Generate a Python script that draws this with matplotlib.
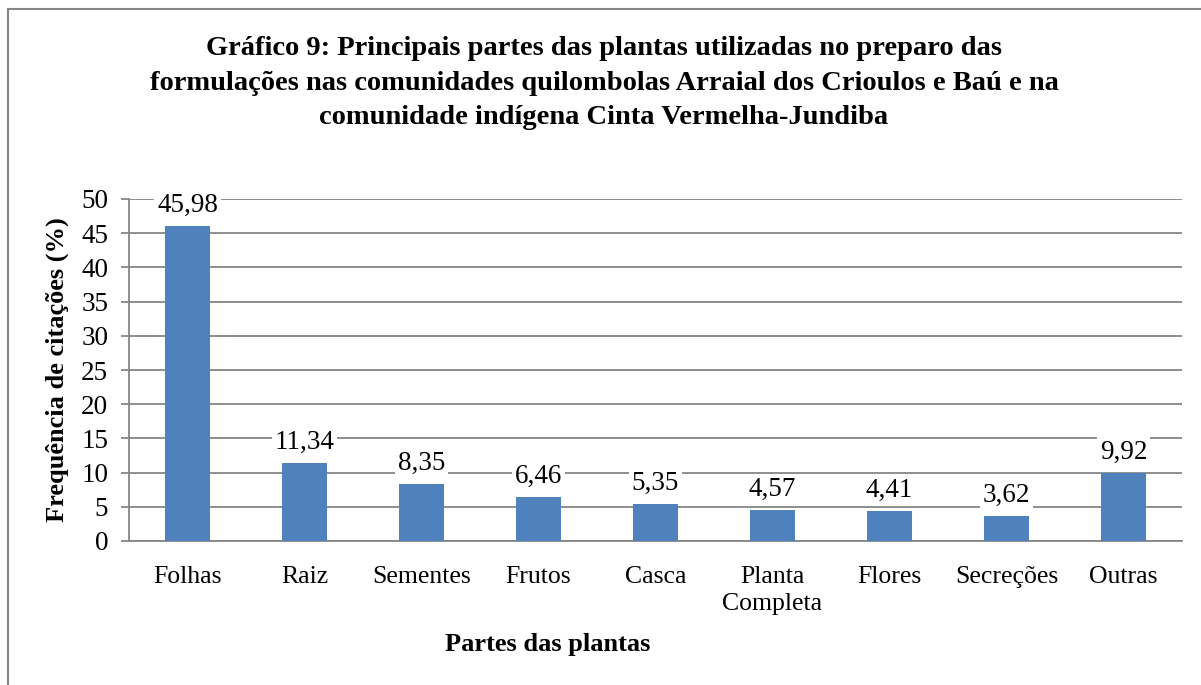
import matplotlib
matplotlib.use("Agg")
import matplotlib.pyplot as plt
from matplotlib.lines import Line2D

plt.rcParams['font.family'] = ['Liberation Serif', 'DejaVu Serif']

# dados
partes = ["Folhas", "Raiz", "Sementes", "Frutos", "Casca",
          "Planta\nCompleta", "Flores", "Secreções", "Outras"]
freq = [45.98, 11.34, 8.35, 6.46, 5.35, 4.57, 4.41, 3.62, 9.92]
yticks = [0, 5, 10, 15, 20, 25, 30, 35, 40, 45, 50]

W, H = 1201, 685
fig = plt.figure(figsize=(W / 100, H / 100), dpi=100)
ax = fig.add_axes([129 / W, 1 - 541 / H, (1182 - 129) / W, (541 - 199) / H])

grey = "#868686"
x = range(len(partes))
ax.bar(x, freq, width=0.39, color="#4F81BD", zorder=3)

for i, v in enumerate(freq):
    ax.annotate(("%.2f" % v).replace(".", ","), (i, v), xytext=(0, 6),
                textcoords="offset points", ha="center", va="bottom",
                fontsize=19.5, zorder=4,
                bbox=dict(boxstyle="square,pad=0.1", fc="white", ec="none"))

ax.set_xlim(-0.5, len(partes) - 0.5)
ax.set_ylim(0, 50)
ax.set_yticks(yticks)
ax.set_xticks(list(x))
ax.set_xticklabels(partes, fontsize=18.5, linespacing=1.3)
ax.tick_params(axis="y", labelsize=19.5, length=6, color=grey, width=1.3, pad=9)
ax.tick_params(axis="x", length=0, pad=18)
ax.grid(axis="y", color=grey, linewidth=1.3, zorder=0)
for s in ["top", "right"]:
    ax.spines[s].set_visible(False)
for s in ["left", "bottom"]:
    ax.spines[s].set_color(grey)
    ax.spines[s].set_linewidth(1.3)

fig.text(57 / W, 1 - 370 / H, "Frequência de citações (%)", rotation=90,
         ha="center", va="center", fontsize=19, fontweight="bold")

fig.text(604 / W, 1 - 83 / H,
         "Gráfico 9: Principais partes das plantas utilizadas no preparo das\n"
         "formulações nas comunidades quilombolas Arraial dos Crioulos e Baú e na\n"
         "comunidade indígena Cinta Vermelha-Jundiba",
         ha="center", va="center", fontsize=20.5, fontweight="bold",
         linespacing=1.48)
fig.text(548 / W, 1 - 645 / H, "Partes das plantas", ha="center", va="center",
         fontsize=19, fontweight="bold")

# moldura do grafico
fig.add_artist(Line2D([8 / W, 8 / W], [0, 1 - 9 / H], transform=fig.transFigure,
                      color=grey, linewidth=1.5))
fig.add_artist(Line2D([8 / W, 1], [1 - 9 / H, 1 - 9 / H], transform=fig.transFigure,
                      color=grey, linewidth=1.5))

fig.savefig("out.png", dpi=100)
